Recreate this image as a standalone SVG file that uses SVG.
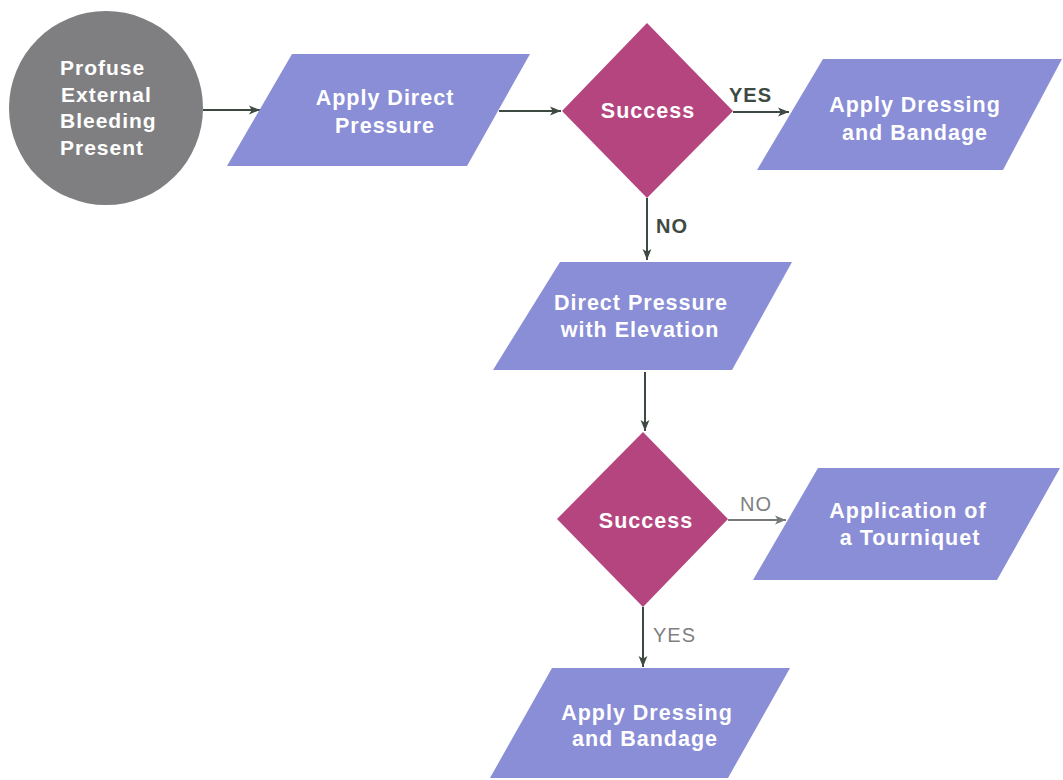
<svg xmlns="http://www.w3.org/2000/svg" width="1063" height="780" viewBox="0 0 1063 780">
<defs>
<marker id="arr" viewBox="0 0 10 10" refX="10" refY="5" markerWidth="11" markerHeight="11" markerUnits="userSpaceOnUse" orient="auto">
<path d="M0,1 L10,5 L0,9 L2.5,5 Z" fill="#3d4a42"/>
</marker>
<marker id="arrg" viewBox="0 0 10 10" refX="10" refY="5" markerWidth="11" markerHeight="11" markerUnits="userSpaceOnUse" orient="auto">
<path d="M0,1 L10,5 L0,9 L2.5,5 Z" fill="#76797a"/>
</marker>
<style>
.para{fill:#8a8ed6;}
.dia{fill:#b5457f;}
.circ{fill:#7f7f82;}
.t{font-family:"Liberation Sans",Arial,sans-serif;font-weight:bold;font-size:21.5px;letter-spacing:1px;fill:#ffffff;text-anchor:middle;}
.tl{text-anchor:start;font-size:21px;}
.lbl{font-family:"Liberation Sans",Arial,sans-serif;font-weight:bold;font-size:20px;letter-spacing:1px;}
.lg{font-weight:normal;fill:#808080;}
.c{stroke:#3d4a42;stroke-width:2;fill:none;marker-end:url(#arr);}
.cg{stroke:#76797a;marker-end:url(#arrg);}
</style>
</defs>
<rect width="1063" height="780" fill="#ffffff"/>
<g id="connectors">
<line class="c" x1="203" y1="110" x2="260" y2="110"/>
<line class="c" x1="499" y1="111" x2="561" y2="111"/>
<line class="c" x1="733" y1="112" x2="789" y2="112"/>
<line class="c" x1="647" y1="198" x2="647" y2="260"/>
<line class="c" x1="645" y1="372" x2="645" y2="431"/>
<line class="c cg" x1="728" y1="520" x2="786" y2="520"/>
<line class="c" x1="643" y1="607" x2="643" y2="667"/>
<text class="lbl" x="729" y="102" fill="#3d4a42">YES</text>
<text class="lbl" x="656" y="233" fill="#3d4a42">NO</text>
<text class="lbl lg" x="740" y="511">NO</text>
<text class="lbl lg" x="653" y="642" fill="#707070">YES</text>
</g>
<g id="start">
<circle class="circ" cx="106" cy="108" r="97"/>
<text class="t tl" x="60" y="75">Profuse</text>
<text class="t tl" x="61" y="102">External</text>
<text class="t tl" x="60" y="128">Bleeding</text>
<text class="t tl" x="60" y="155">Present</text>
</g>
<g id="pressure">
<polygon class="para" points="292,54 530,54 467,166 227,166"/>
<text class="t" x="385" y="105">Apply Direct</text>
<text class="t" x="385" y="133">Pressure</text>
</g>
<g id="success1">
<polygon class="dia" points="647,23 733,111 647,198 562,111"/>
<text class="t" x="648" y="118">Success</text>
</g>
<g id="dressing1">
<polygon class="para" points="823,59 1062,59 1003,170 757,170"/>
<text class="t" x="915" y="112">Apply Dressing</text>
<text class="t" x="915" y="140">and Bandage</text>
</g>
<g id="elevation">
<polygon class="para" points="560,262 792,262 732,370 493,370"/>
<text class="t" x="641" y="310">Direct Pressure</text>
<text class="t" x="640" y="337">with Elevation</text>
</g>
<g id="success2">
<polygon class="dia" points="643,432 728,519 643,607 557,519"/>
<text class="t" x="646" y="528">Success</text>
</g>
<g id="tourniquet">
<polygon class="para" points="818,468 1060,468 997,580 753,580"/>
<text class="t" x="908" y="518">Application of</text>
<text class="t" x="910" y="545">a Tourniquet</text>
</g>
<g id="dressing2">
<polygon class="para" points="552,668 790,668 728,778 490,778"/>
<text class="t" x="647" y="720">Apply Dressing</text>
<text class="t" x="645" y="746">and Bandage</text>
</g>
</svg>
